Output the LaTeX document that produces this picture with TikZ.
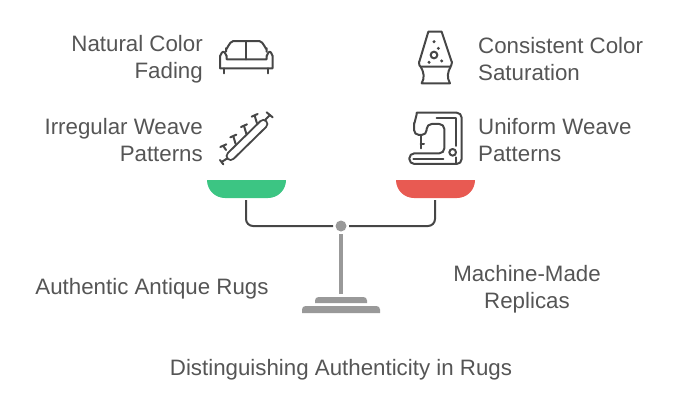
\documentclass[tikz,border=0pt]{standalone}
\usepackage{fontspec}
\setmainfont{Liberation Sans}
\usepackage{tikz}
\usetikzlibrary{positioning}
\definecolor{inkgray}{RGB}{85, 85, 85}
\definecolor{icongray}{RGB}{70, 70, 70}
\definecolor{standgray}{RGB}{153, 153, 153}
\definecolor{beamgray}{RGB}{70, 70, 70}
\definecolor{pangreen}{RGB}{60, 197, 131}
\definecolor{panred}{RGB}{232, 90, 82}
\tikzstyle{textonly} = [draw=none, fill=none, text=inkgray, inner sep=0pt, font=\fontsize{22.3}{27}\selectfont]
\tikzstyle{lefttext} = [textonly, align=right, anchor=east]
\tikzstyle{righttext} = [textonly, align=left, anchor=west]
\tikzstyle{midtext} = [textonly, align=center]
\tikzstyle{icon} = [draw=icongray, line width=2pt, line join=round, line cap=round]
\tikzstyle{beam} = [draw=beamgray, line width=2pt, rounded corners=7pt]
\tikzstyle{post} = [draw=standgray, line width=4.4pt]
\tikzstyle{pivot} = [circle, fill=standgray, inner sep=0pt, minimum size=11pt, outer sep=2.5pt]

\begin{document}
\begin{tikzpicture}[x=1pt, y=-1pt]
\useasboundingbox (0,0) rectangle (696,410);

% labels =============================
\node[lefttext] (fading) at (203,59) {Natural Color\\Fading};
\node[lefttext] (weave) at (203,140) {Irregular Weave\\Patterns};
\node[righttext] (saturation) at (478,59) {Consistent Color\\Saturation};
\node[righttext] (uniform) at (478,140) {Uniform Weave\\Patterns};
\node[midtext] (antique) at (152,288.7) {Authentic Antique Rugs};
\node[midtext] (replicas) at (527,289) {Machine-Made\\Replicas};
\node[midtext] (title) at (341,369.7) {Distinguishing Authenticity in Rugs};

% pans
\fill[pangreen] (207,180) -- (286,180) to[out=270, in=0] (268,198) -- (225,198) to[out=180, in=270] (207,180) -- cycle;
\fill[panred] (396,180) -- (475,180) to[out=270, in=0] (457,198) -- (414,198) to[out=180, in=270] (396,180) -- cycle;

% stand
\node[pivot] (hinge) at (341,226) {};
\coordinate (greenend) at (246,200);
\coordinate (redend) at (435,200);
\coordinate (foot) at (341,294);
\path[beam] (greenend) |- (hinge.west);
\path[beam] (redend) |- (hinge.east);
\path[post] (hinge.south) -- (foot);
\fill[standgray, rounded corners=3.5pt] (315,303) -- (315,297) -- (367,297) -- (367,303);
\fill[standgray, rounded corners=3.5pt] (302,313) -- (302,306) -- (380,306) -- (380,313);
\fill[standgray] (315,300) rectangle (367,303);
\fill[standgray] (302,310) rectangle (380,313);

% sofa
\begin{scope}[shift={(200,20)}, x=0.3333pt, y=-0.3333pt]
\path[icon] (78,95) -- (78,85) to[out=270, in=180] (100,63) -- (178,63) to[out=0, in=270] (200,85) -- (200,95);
\path[icon] (60,145) -- (60,107) to[out=270, in=180] (70,95) to[out=0, in=270] (80,107) -- (80,118) -- (200,118) -- (200,107) to[out=270, in=180] (209,95) to[out=0, in=270] (218,107) -- (218,145) -- cycle;
\path[icon] (138,63) -- (138,118);
\path[icon] (73,145) -- (73,160);
\path[icon] (203,145) -- (203,160);
\end{scope}

% weave tool
\begin{scope}[shift={(200,20)}, x=0.3333pt, y=-0.3333pt]
\draw[icongray, line width=10pt, line cap=round] (92,408) -- (190,312);
\draw[white, line width=6pt, line cap=round] (92,408) -- (190,312);
\foreach \sx/\sy/\tx/\ty in {78/390/70/378, 107/372/100/349, 139/341/132/318, 171/310/164/287} {
  \path[icon] (\sx,\sy) -- (\tx,\ty);
  \path[icon] (\tx-9,\ty+3) -- (\tx+9,\ty-5);
}
\path[icon] (82,415) -- (68,424);
\path[icon] (60,420) -- (70,433);
\path[icon] (195,300) -- (209,286);
\path[icon] (200,277) -- (218,292);
\end{scope}

% lamp
\begin{scope}[shift={(400,20)}, x=0.3333pt, y=-0.3333pt]
\path[icon] (85,35) -- (125,35) -- (155,125) to[out=80, in=0] (150,140) -- (62,140) to[out=180, in=100] (58,125) -- cycle;
\path[icon] (62,140) to[out=-60, in=60] (65,190) -- (150,190) to[out=120, in=-120] (152,140);
\path[icon] (102,105) circle (10);
\fill[icongray] (102,65) circle (5);
\fill[icongray] (115,85) circle (5);
\fill[icongray] (87,127) circle (5);
\fill[icongray] (125,123) circle (5);
\end{scope}

% sewing machine
\begin{scope}[shift={(400,20)}, x=0.3333pt, y=-0.3333pt]
\path[icon, rounded corners=5pt] (80,345) -- (42,345) -- (42,300) to[out=270, in=180] (65,278) -- (185,278) -- (185,432) -- (28,432) -- (28,400) -- (133,400) -- (133,312) -- (80,312) -- cycle;
\path[icon] (110,295) -- (168,295) -- (168,378);
\path[icon] (168,412) -- (168,432);
\path[icon] (62,345) -- (62,385);
\path[icon] (62,372) -- (72,372);
\path[icon] (40,416) -- (130,416);
\path[icon] (158,397) circle (10);
\end{scope}

\end{tikzpicture}
\end{document}
